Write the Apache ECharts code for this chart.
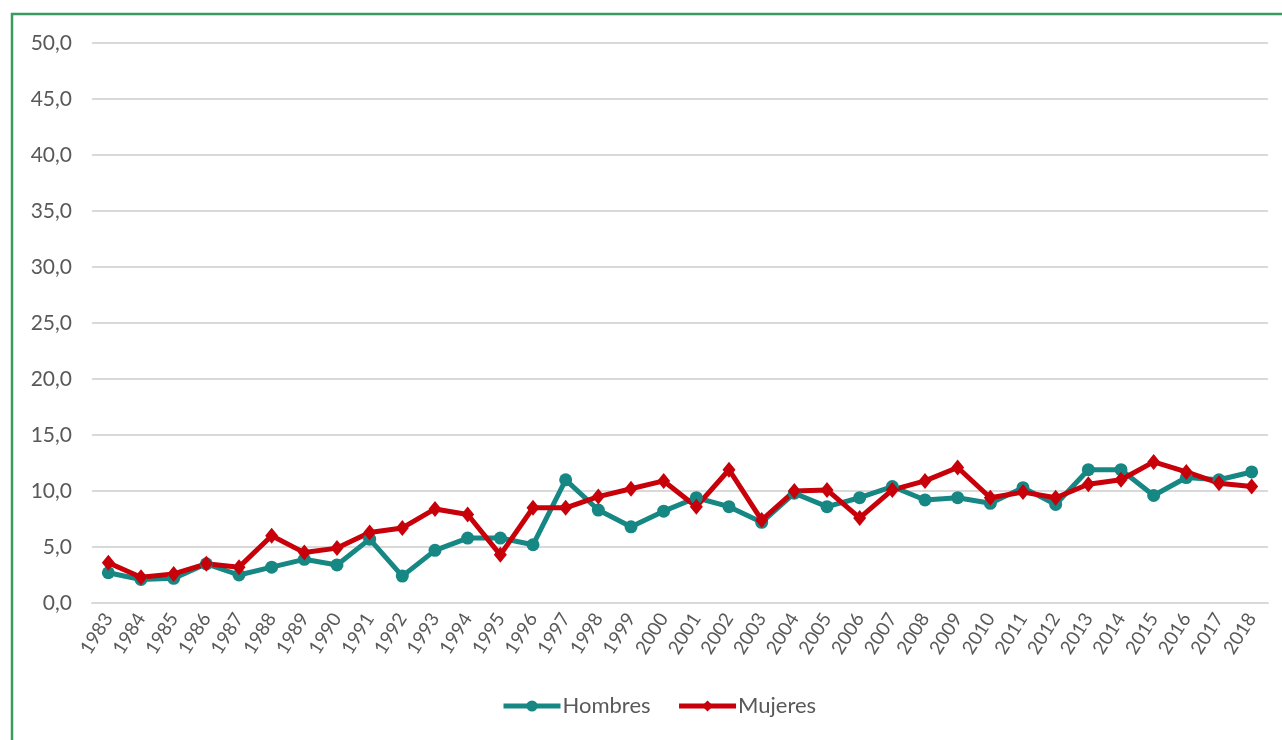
<!DOCTYPE html>
<html><head><meta charset="utf-8">
<script src="https://cdn.jsdelivr.net/npm/echarts@6/dist/echarts.min.js"></script>
<style>html,body{margin:0;padding:0;background:#fff}#c{width:1282px;height:740px}</style>
</head><body><div id="c"></div>
<script>
const years = ['1983','1984','1985','1986','1987','1988','1989','1990','1991','1992','1993','1994','1995','1996','1997','1998','1999','2000','2001','2002','2003','2004','2005','2006','2007','2008','2009','2010','2011','2012','2013','2014','2015','2016','2017','2018'];
const hombres = [2.7,2.1,2.2,3.5,2.5,3.2,3.9,3.4,5.7,2.4,4.7,5.8,5.8,5.2,11.0,8.3,6.8,8.2,9.4,8.6,7.2,9.8,8.6,9.4,10.4,9.2,9.4,8.9,10.3,8.8,11.9,11.9,9.6,11.2,11.0,11.7];
const mujeres = [3.6,2.3,2.6,3.5,3.2,6.0,4.5,4.9,6.3,6.7,8.4,7.9,4.3,8.5,8.5,9.5,10.2,10.9,8.6,11.9,7.4,10.0,10.1,7.6,10.1,10.9,12.1,9.4,9.9,9.4,10.6,11.0,12.6,11.7,10.7,10.4];
const seriesNames = ['Hombres','Mujeres'];
const yTicks = {min:0, max:50, interval:5};

const chart = echarts.init(document.getElementById('c'), null, {renderer:'canvas'});
const font = 'Lato, Open Sans, sans-serif';
chart.setOption({
  animation:false,
  backgroundColor:'#ffffff',
  graphic:[{type:'rect', shape:{x:12,y:14,width:1300,height:760}, style:{fill:'none', stroke:'#3a9a5f', lineWidth:2.5}, silent:true, z:-1}],
  grid:{left:92,right:14,top:43,bottom:137},
  xAxis:{type:'category', data:years, boundaryGap:true,
    axisLine:{show:true, lineStyle:{color:'#d9d9d9', width:2}}, axisTick:{show:false},
    axisLabel:{rotate:58, color:'#595959', fontSize:19, fontFamily:font, margin:12, interval:0}},
  yAxis:{type:'value', min:yTicks.min, max:yTicks.max, interval:yTicks.interval,
    axisLine:{show:false}, axisTick:{show:false},
    splitLine:{lineStyle:{color:'#d9d9d9', width:2}},
    axisLabel:{color:'#595959', fontSize:21, fontFamily:font, margin:20,
      formatter:v=>v.toFixed(1).replace('.',',')}},
  legend:{bottom:18, left:496, itemWidth:57, itemHeight:14, itemGap:26,
    textStyle:{color:'#595959', fontSize:22, fontFamily:font, padding:[0,0,0,-3]},
    lineStyle:{width:5},
    data:seriesNames},
  series:[
    {name:seriesNames[0], type:'line', data:hombres, symbol:'circle', symbolSize:13,
      lineStyle:{color:'#178784', width:5}, itemStyle:{color:'#178784'}},
    {name:seriesNames[1], type:'line', data:mujeres, symbol:'diamond', symbolSize:[13,16],
      lineStyle:{color:'#c8000a', width:5}, itemStyle:{color:'#c8000a'}}
  ]
});
</script></body></html>
